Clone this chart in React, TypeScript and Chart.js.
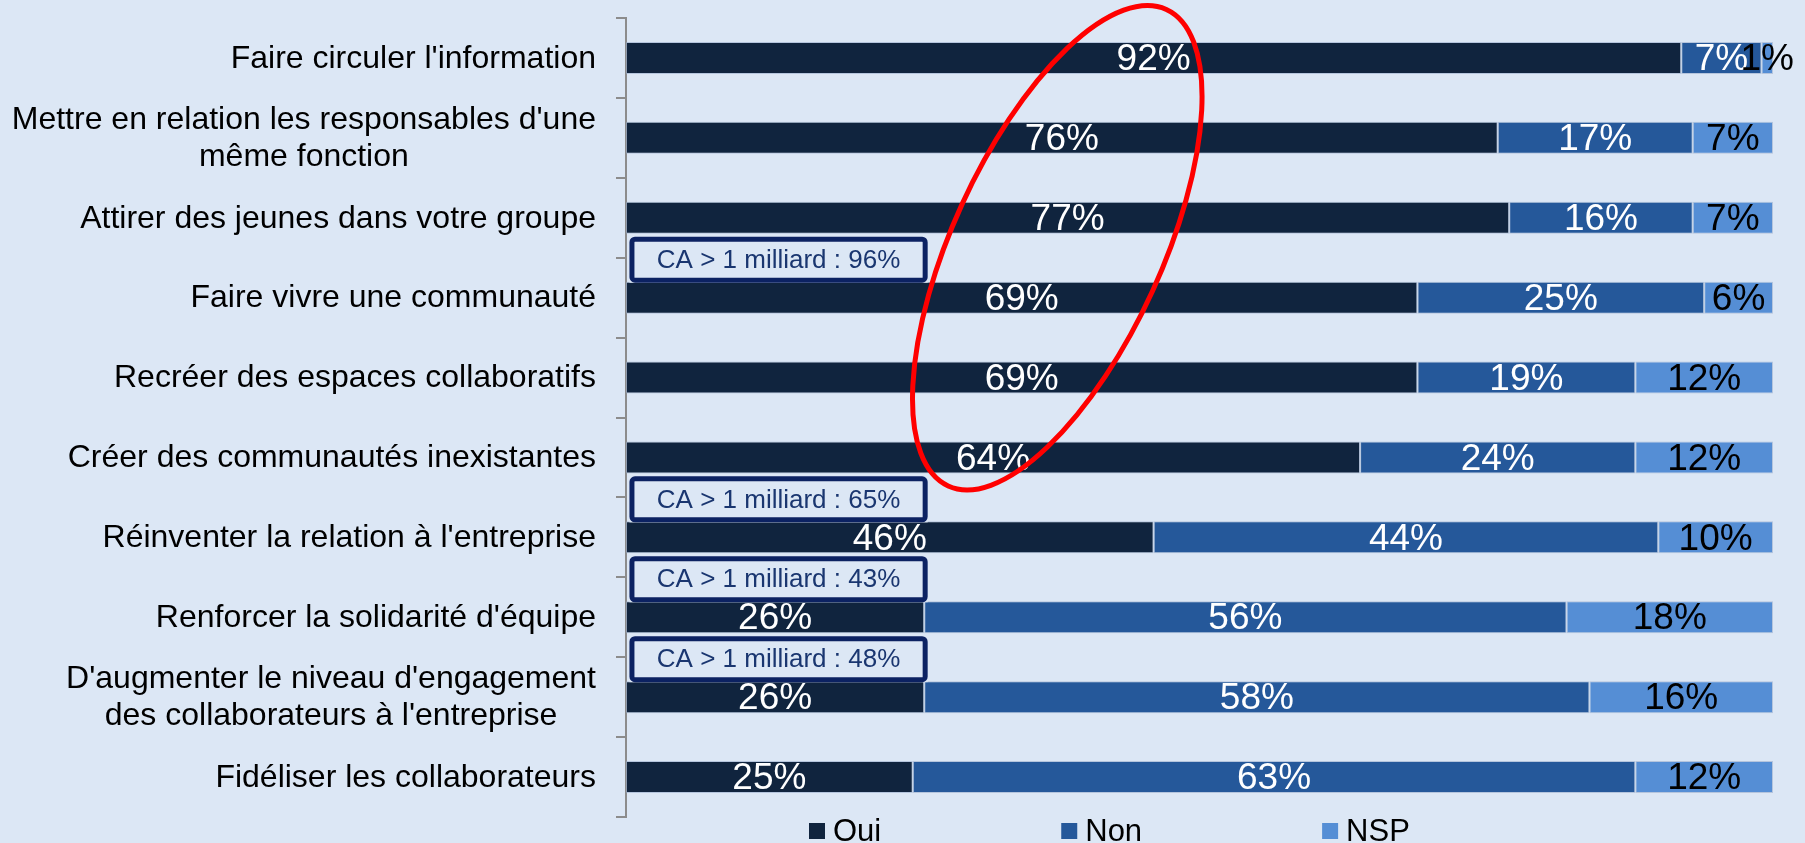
import React, { useEffect, useRef } from "react";
import { Chart, registerables } from "chart.js";

Chart.register(...registerables);

// ---------- data ----------
const categories: (string | string[])[] = [
  "Faire circuler l'information",
  ["Mettre en relation les responsables d'une", "même fonction"],
  "Attirer des jeunes dans votre groupe",
  "Faire vivre une communauté",
  "Recréer des espaces collaboratifs",
  "Créer des communautés inexistantes",
  "Réinventer la relation à l'entreprise",
  "Renforcer la solidarité d'équipe",
  ["D'augmenter le niveau d'engagement", "des collaborateurs à l'entreprise"],
  "Fidéliser les collaborateurs",
];

const oui = [92, 76, 77, 69, 69, 64, 46, 26, 26, 25];
const non = [7, 17, 16, 25, 19, 24, 44, 56, 58, 63];
const nsp = [1, 7, 7, 6, 12, 12, 10, 18, 16, 12];

const seriesNames = ["Oui", "Non", "NSP"];

const calloutRows = [3, 6, 7, 8];
const calloutTexts = [
  "CA > 1 milliard : 96%",
  "CA > 1 milliard : 65%",
  "CA > 1 milliard : 43%",
  "CA > 1 milliard : 48%",
];

// ---------- styles ----------
const BG = "#DCE7F5";
const FONT = "'Liberation Sans', Arial, Helvetica, sans-serif";
const seriesColors = ["#10243E", "#25589A", "#558ED5"];
const labelColors = ["#FFFFFF", "#FFFFFF", "#000000"];
const AXIS_GRAY = "#8C8C8C";

const W = 1805;
const H = 843;

export default function App() {
  const canvasRef = useRef<HTMLCanvasElement | null>(null);

  useEffect(() => {
    document.body.style.margin = "0";
    const canvas = canvasRef.current;
    if (!canvas) return;

    const bgPlugin = {
      id: "bg",
      beforeDraw(chart: any) {
        const ctx = chart.ctx;
        ctx.save();
        ctx.fillStyle = BG;
        ctx.fillRect(0, 0, chart.width, chart.height);
        ctx.restore();
      },
    };

    const catLabelsPlugin = {
      id: "catLabels",
      afterDraw(chart: any) {
        const ctx = chart.ctx;
        const ys = chart.scales.y;
        const rightX = chart.chartArea.left - 30;
        ctx.save();
        ctx.font = `32px ${FONT}`;
        ctx.fillStyle = "#000000";
        ctx.textAlign = "center";
        ctx.textBaseline = "middle";
        const lh = 37;
        categories.forEach((lab, i) => {
          const lines = Array.isArray(lab) ? lab : [lab];
          const bw = Math.max(...lines.map((l) => ctx.measureText(l).width));
          const cx = rightX - bw / 2;
          const yc = ys.getPixelForValue(i);
          const y0 = yc - ((lines.length - 1) * lh) / 2;
          lines.forEach((l, k) => ctx.fillText(l, cx, y0 + k * lh + 1));
        });
        ctx.restore();
      },
    };

    const valueLabelsPlugin = {
      id: "valueLabels",
      afterDatasetsDraw(chart: any) {
        const ctx = chart.ctx;
        ctx.save();
        ctx.font = `37px ${FONT}`;
        ctx.textAlign = "center";
        ctx.textBaseline = "middle";
        chart.data.datasets.forEach((ds: any, di: number) => {
          const meta = chart.getDatasetMeta(di);
          meta.data.forEach((el: any, i: number) => {
            const p = el.getProps(["x", "base", "y"], true);
            ctx.fillStyle = labelColors[di];
            ctx.fillText(ds.data[i] + "%", (p.x + p.base) / 2, p.y + 2);
          });
        });
        ctx.restore();
      },
    };

    const calloutPlugin = {
      id: "callouts",
      afterDraw(chart: any) {
        const ctx = chart.ctx;
        const ys = chart.scales.y;
        const xs = chart.scales.x;
        ctx.save();
        calloutRows.forEach((row, k) => {
          const yc = ys.getPixelForValue(row);
          const bottom = yc - 15;
          const h = 46;
          const top = bottom - h;
          const left = xs.getPixelForValue(0.3);
          const right = xs.getPixelForValue(26.3);
          const w = right - left;
          ctx.fillStyle = BG;
          ctx.fillRect(left, top, w, h);
          ctx.strokeStyle = "#0C2262";
          ctx.lineWidth = 5;
          ctx.beginPath();
          if ((ctx as any).roundRect) {
            (ctx as any).roundRect(left + 2.5, top + 2.5, w - 5, h - 5, 3);
          } else {
            ctx.rect(left + 2.5, top + 2.5, w - 5, h - 5);
          }
          ctx.stroke();
          ctx.fillStyle = "#1A3670";
          ctx.font = `26px ${FONT}`;
          ctx.textAlign = "center";
          ctx.textBaseline = "middle";
          ctx.fillText(calloutTexts[k], left + w / 2, top + h / 2 + 1);
        });
        ctx.restore();
      },
    };

    const ellipsePlugin = {
      id: "ellipse",
      afterDraw(chart: any) {
        const ctx = chart.ctx;
        const xs = chart.scales.x;
        const ys = chart.scales.y;
        const cx = xs.getPixelForValue(37.6);
        const cy = ys.getPixelForValue(2.375);
        const step = ys.getPixelForValue(1) - ys.getPixelForValue(0);
        const rx = step * 1.31;
        const ry = step * 3.28;
        ctx.save();
        ctx.strokeStyle = "#FF0000";
        ctx.lineWidth = 5;
        ctx.beginPath();
        ctx.ellipse(cx, cy, rx, ry, (24.6 * Math.PI) / 180, 0, Math.PI * 2);
        ctx.stroke();
        ctx.restore();
      },
    };

    const legendPlugin = {
      id: "customLegend",
      afterDraw(chart: any) {
        const ctx = chart.ctx;
        const ca = chart.chartArea;
        ctx.save();
        ctx.font = `31px ${FONT}`;
        ctx.textAlign = "left";
        ctx.textBaseline = "alphabetic";
        let x = ca.left + 183;
        const boxTop = ca.bottom + 6;
        seriesNames.forEach((name, i) => {
          ctx.fillStyle = seriesColors[i];
          ctx.fillRect(x, boxTop, 16, 16);
          ctx.fillStyle = "#000000";
          ctx.fillText(name, x + 24, ca.bottom + 24);
          x += 24 + ctx.measureText(name).width + 180;
        });
        ctx.restore();
      },
    };

    const seriesData = [oui, non, nsp];

    const chart = new Chart(canvas, {
      type: "bar",
      data: {
        labels: categories as any,
        datasets: seriesNames.map((name, i) => ({
          label: name,
          data: seriesData[i],
          backgroundColor: seriesColors[i],
          borderColor: "rgba(150,170,200,0.55)",
          borderWidth: 1,
          borderSkipped: false,
          barPercentage: 0.4,
          categoryPercentage: 1,
        })),
      },
      options: {
        indexAxis: "y",
        responsive: false,
        maintainAspectRatio: false,
        animation: false,
        layout: { padding: { top: 18, right: 32, bottom: 26, left: 0 } },
        plugins: {
          legend: { display: false },
          tooltip: { enabled: false },
        },
        scales: {
          x: { stacked: true, min: 0, max: 100, display: false },
          y: {
            stacked: true,
            grid: {
              display: true,
              drawOnChartArea: false,
              drawTicks: true,
              tickLength: 10,
              tickWidth: 2,
              lineWidth: 2,
              color: AXIS_GRAY,
              offset: true,
            },
            border: { display: true, color: AXIS_GRAY, width: 2 },
            ticks: { display: false },
            afterFit: (s: any) => {
              s.width = 626;
            },
          },
        },
      } as any,
      plugins: [bgPlugin, valueLabelsPlugin, catLabelsPlugin, calloutPlugin, ellipsePlugin, legendPlugin],
    });

    return () => chart.destroy();
  }, []);

  return (
    <div style={{ position: "absolute", left: 0, top: 0, width: W, height: H, background: BG, overflow: "hidden" }}>
      <canvas ref={canvasRef} width={W} height={H} style={{ display: "block", width: W, height: H }} />
    </div>
  );
}
